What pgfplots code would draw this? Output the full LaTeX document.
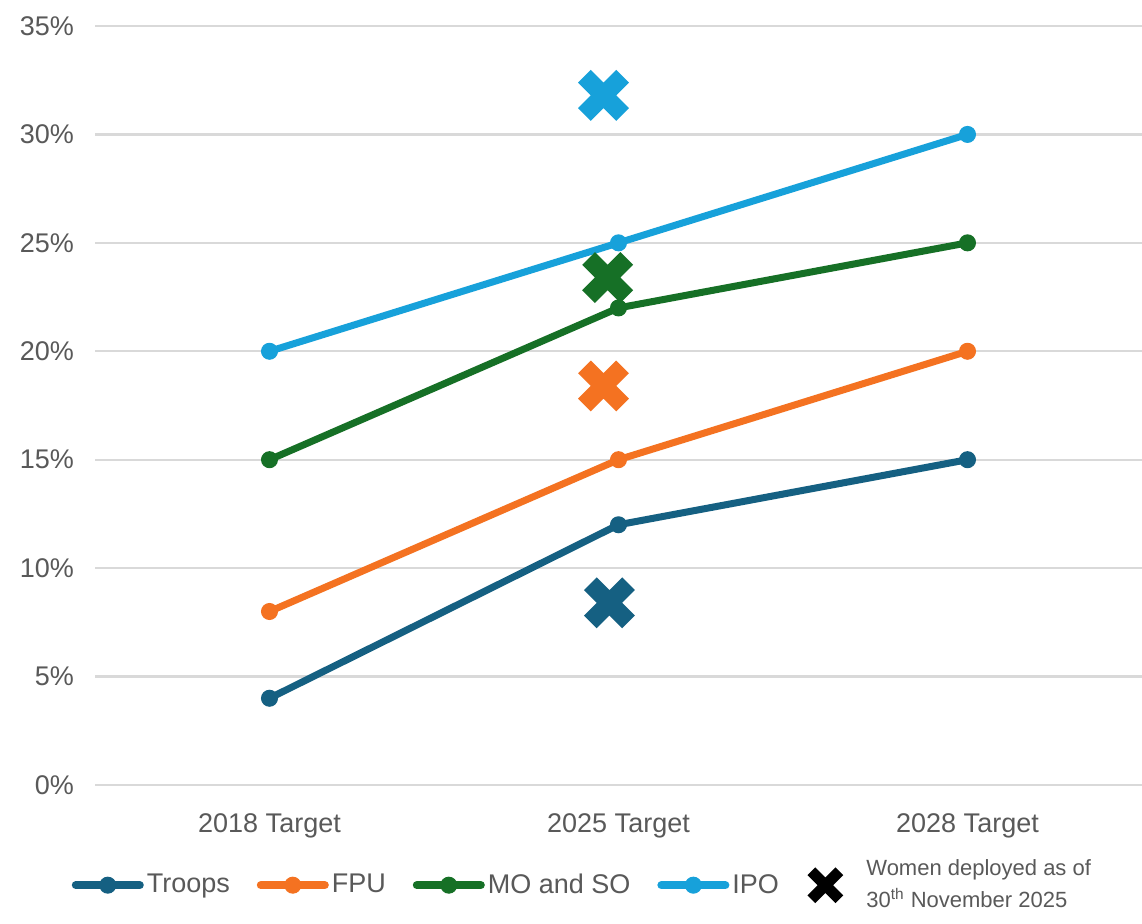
\documentclass[border=0pt]{standalone}
\usepackage{pgfplots}
\pgfplotsset{compat=1.18}
\usepackage{fontspec}
\setmainfont{Liberation Sans}

\definecolor{cTroops}{HTML}{156082}
\definecolor{cFPU}{HTML}{F47221}
\definecolor{cMOSO}{HTML}{167026}
\definecolor{cIPO}{HTML}{17A1DA}
\definecolor{gridgray}{HTML}{D9D9D9}
\definecolor{textgray}{HTML}{595959}

\newcommand{\smallnote}{\fontsize{11}{16}\selectfont}

\begin{document}
\begin{tikzpicture}
\path[use as bounding box, fill=white] (-47.5pt,-69.5pt) rectangle (523.5pt,392.5pt);
\begin{axis}[
  scale only axis,
  width=523.5pt, height=379.5pt,
  xmin=-0.5, xmax=2.5, ymin=0, ymax=35,
  ytick={0,5,10,15,20,25,30,35},
  yticklabel={\pgfmathprintnumber{\tick}\%},
  xtick={0,1,2},
  xticklabels={2018 Target, 2025 Target, 2028 Target},
  ymajorgrids,
  grid style={draw=gridgray, line width=1.2pt},
  axis line style={draw=none},
  major tick length=0pt,
  /pgf/number format/assume math mode=true,
  tick label style={font=\fontsize{13.5}{16}\selectfont, text=textgray},
  yticklabel style={xshift=-7pt},
  xticklabel style={yshift=-11pt},
  legend columns=5,
  legend style={
    at={(0.466,-0.132)}, anchor=center,
    draw=none, fill=none,
    font=\fontsize{13.5}{16}\selectfont,
    text=textgray,
    cells={align=left},
    nodes={inner xsep=1.5pt},
    /tikz/every odd column/.append style={column sep=0pt},
    /tikz/every even column/.append style={column sep=12pt},
  },
  legend image code/.code={
    \draw[#1, line width=4pt, line cap=round, mark repeat=2, mark phase=2]
      plot coordinates {(0pt,0pt) (16pt,0pt) (32pt,0pt)};
  },
]

% targets by personnel category
\addplot[cTroops, line width=3.5pt, mark=*, mark size=4pt, mark options={line width=0.5pt}]
  coordinates {(0,4) (1,12) (2,15)};
\addlegendentry{Troops}
\addplot[cFPU, line width=3.5pt, mark=*, mark size=4pt, mark options={line width=0.5pt}]
  coordinates {(0,8) (1,15) (2,20)};
\addlegendentry{FPU}
\addplot[cMOSO, line width=3.5pt, mark=*, mark size=4pt, mark options={line width=0.5pt}]
  coordinates {(0,15) (1,22) (2,25)};
\addlegendentry{MO and SO}
\addplot[cIPO, line width=3.5pt, mark=*, mark size=4pt, mark options={line width=0.5pt}]
  coordinates {(0,20) (1,25) (2,30)};
\addlegendentry{IPO}

% women deployed as of 30 November 2025
\addplot[only marks, cTroops, mark=x, mark size=13.5pt, mark options={line width=9pt}, forget plot]
  coordinates {(0.974,8.4)};
\addplot[only marks, cFPU, mark=x, mark size=13.5pt, mark options={line width=9pt}, forget plot]
  coordinates {(0.957,18.4)};
\addplot[only marks, cMOSO, mark=x, mark size=13.5pt, mark options={line width=9pt}, forget plot]
  coordinates {(0.969,23.4)};
\addplot[only marks, cIPO, mark=x, mark size=13.5pt, mark options={line width=9pt}, forget plot]
  coordinates {(0.957,31.8)};

\addlegendimage{legend image code/.code={
  \draw[black, line width=5.5pt] (2pt,-7pt) -- (16pt,7pt) (2pt,7pt) -- (16pt,-7pt);
  \path[draw=none, fill=none] (0pt,0pt) -- (28pt,0pt);
}}
\addlegendentry{\smallnote Women deployed as of\\\smallnote 30\textsuperscript{th} November 2025}
\end{axis}
\end{tikzpicture}
\end{document}
